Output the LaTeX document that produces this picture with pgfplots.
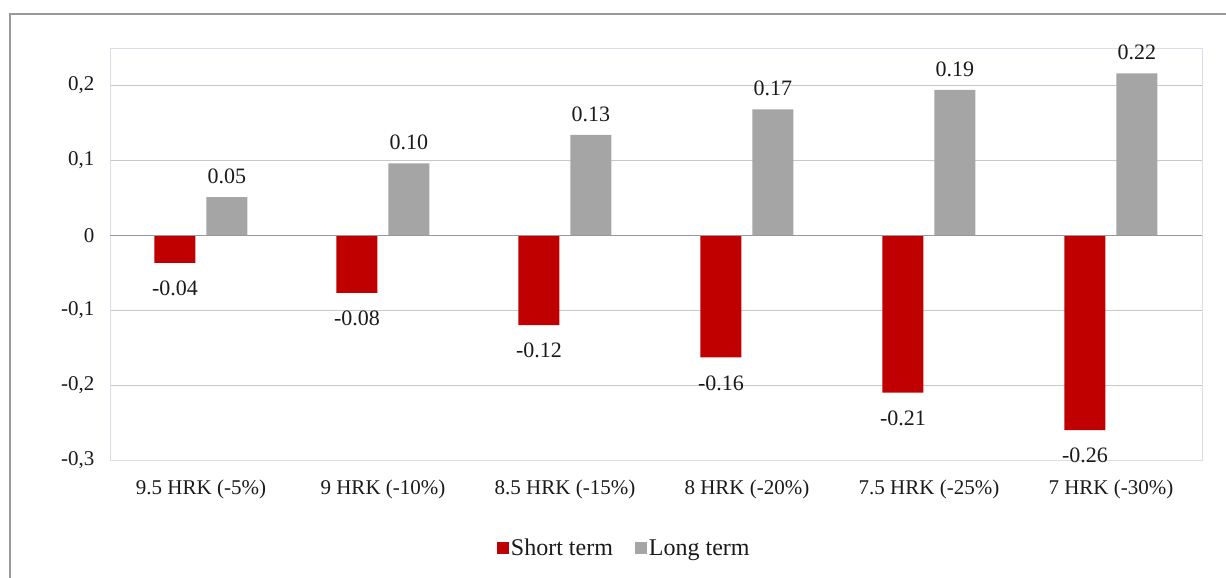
\documentclass[border=0pt]{standalone}
\usepackage{pgfplots}
\pgfplotsset{compat=1.18}
\usepackage{fontspec}
\setmainfont{Liberation Serif}
\definecolor{redbar}{HTML}{C00000}
\definecolor{greybar}{HTML}{A5A5A5}
\definecolor{gridc}{HTML}{C8C8C8}
\definecolor{framec}{HTML}{D6DFE8}
\definecolor{txt}{HTML}{1A1A1A}
\begin{document}
\begin{tikzpicture}[x=1pt,y=1pt]
\useasboundingbox (0,0) rectangle (1226,578);
\draw[color=black!40, line width=1.2pt] (10,-10) -- (10,564) -- (1240,564);
\begin{axis}[
  at={(110pt,118pt)}, anchor=south west,
  width=1092pt, height=412pt, scale only axis,
  ybar=11pt, bar width=41pt,
  xmin=-0.5, xmax=5.5, ymin=-0.3, ymax=0.25,
  xtick={0,...,5},
  xticklabels={9.5 HRK (-5\%), 9 HRK (-10\%), 8.5 HRK (-15\%), 8 HRK (-20\%), 7.5 HRK (-25\%), 7 HRK (-30\%)},
  ytick={-0.3,-0.2,-0.1,0,0.1,0.2},
  major tick length=0pt,
  ymajorgrids, grid style={color=gridc, line width=0.8pt},
  axis line style={color=framec, line width=0.9pt},
  tick label style={font=\fontsize{21}{23}\selectfont, color=txt},
  yticklabel style={/pgf/number format/.cd, use comma, assume math mode=true, fixed, /tikz/.cd, xshift=-12pt},
  xticklabel style={yshift=-16pt},
  legend style={at={(0.471,-0.2136)}, anchor=center, draw=none, fill=none,
    legend columns=2, font=\fontsize{24}{26}\selectfont, text=txt,
    /tikz/every even column/.append style={column sep=20pt}},
  legend image code/.code={\fill[#1] (0pt,-6pt) rectangle (12pt,6pt);},
  nodes near coords,
  every node near coord/.append style={font=\fontsize{22}{24}\selectfont, color=txt,
    /pgf/number format/.cd, fixed, fixed zerofill, precision=2, assume math mode=true, /tikz/.cd},
  clip=false,
]
\addplot[fill=redbar, draw=none, every node near coord/.append style={inner ysep=18pt}]
  coordinates {(0,-0.037) (1,-0.077) (2,-0.12) (3,-0.163) (4,-0.21) (5,-0.26)};
\addplot[fill=greybar, draw=none, every node near coord/.append style={inner ysep=13pt}]
  coordinates {(0,0.051) (1,0.096) (2,0.134) (3,0.168) (4,0.194) (5,0.216)};
\legend{Short term, Long term}
\draw[color=black!40, line width=0.9pt] (axis cs:-0.5,0) -- (axis cs:5.5,0);
\end{axis}
\end{tikzpicture}
\end{document}
